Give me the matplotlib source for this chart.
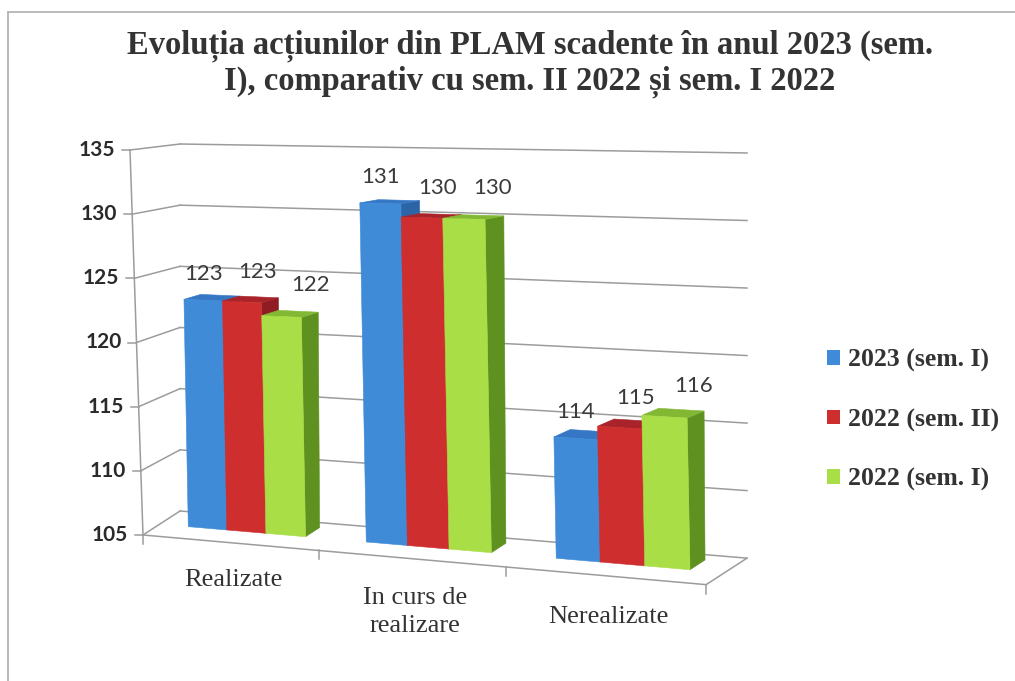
import numpy as np
import matplotlib
matplotlib.use("Agg")
import matplotlib.pyplot as plt
from matplotlib.patches import Polygon, Patch

#==========================
# DATA
#==========================
categories = ["Realizate", "In curs de\nrealizare", "Nerealizate"]
series = ["2023 (sem. I)", "2022 (sem. II)", "2022 (sem. I)"]
sem1_2023 = [123, 131, 114]
sem2_2022 = [123, 130, 115]
sem1_2022 = [122, 130, 116]
yticks = [105, 110, 115, 120, 125, 130, 135]
title = ("Evoluția acțiunilor din PLAM scadente în anul 2023 (sem.\n"
         "I), comparativ cu sem. II 2022 și sem. I 2022")

values = [sem1_2023, sem2_2022, sem1_2022]

#==========================
# STYLE
#==========================
front = ["#3f8bd8", "#cf2e2f", "#aade46"]
side = ["#2b65a8", "#8f1c22", "#5f9120"]
top = ["#3577c4", "#a9242a", "#82b834"]
grid_c = "#9c9c9c"
lab_dx = [0, 16, 29]      # label shift per series (px)
lab_dy = [-26, -30, -31]
serif = "Liberation Serif"
sans = "Lato"

#==========================
# PERSPECTIVE (canvas pixels)
#==========================
W, H = 1015, 681
VPX, VPY = -5272.0, 57.7      # vanishing point far on the left
K = 0.0314
vmin, vmax = yticks[0], yticks[-1]
ncat = len(categories)
bw = 0.222                    # bar width (category units)
d0, d1 = 0.45, 0.82           # bar depth inside the floor

def wall(v, d):
    # point on the left wall (category x = 0)
    t = (v - vmin) / float(vmax - vmin)
    fx, fy = 143 - 13*t, 535 - 385*t
    bx, by = 180.0, 511 - 367*t
    return fx + d*(bx - fx), fy + d*(by - fy)

def P(x, v, d):
    qx, qy = wall(v, d)
    lam = 1.0/(1.0 - K*x)
    return VPX + lam*(qx - VPX), VPY + lam*(qy - VPY)

#==========================
# FIGURE
#==========================
fig = plt.figure(figsize=(W/100.0, H/100.0), dpi=100)
ax = fig.add_axes([0, 0, 1, 1])
ax.set_xlim(0, W)
ax.set_ylim(H, 0)
ax.axis("off")

# frame of the scanned chart
ax.plot([8, W], [12, 12], color="#b4b4b4", lw=1.3)
ax.plot([8, 8], [12, H], color="#b4b4b4", lw=1.3)

# walls grid
for v in yticks:
    a, b = P(0, v, 1), P(ncat, v, 1)
    ax.plot([a[0], b[0]], [a[1], b[1]], color=grid_c, lw=1.1, zorder=1)
    a, b = P(0, v, 0), P(0, v, 1)
    ax.plot([a[0], b[0]], [a[1], b[1]], color=grid_c, lw=1.1, zorder=1)
    ax.plot([a[0]-8, a[0]], [a[1], a[1]], color=grid_c, lw=1.1, zorder=1)
    ax.text(a[0]-15, a[1], str(v), ha="right", va="center", fontsize=15,
            family=sans, fontweight="bold", color="#2a2a2a")

# axis line + floor edges
a, b = P(0, vmin, 0), P(0, vmax, 0)
ax.plot([a[0], b[0]], [a[1], b[1]], color=grid_c, lw=1.1, zorder=1)
a, b = P(0, vmin, 0), P(ncat, vmin, 0)
ax.plot([a[0], b[0]], [a[1], b[1]], color=grid_c, lw=1.1, zorder=1)
a, b = P(ncat, vmin, 0), P(ncat, vmin, 1)
ax.plot([a[0], b[0]], [a[1], b[1]], color=grid_c, lw=1.1, zorder=1)
for i in range(ncat+1):
    a = P(i, vmin, 0)
    ax.plot([a[0], a[0]], [a[1], a[1]+9], color=grid_c, lw=1.1, zorder=1)

# bars
for i in range(ncat):
    c = i + 0.5
    for j in range(len(series)):
        v = values[j][i]
        x0 = c - 1.5*bw + j*bw
        x1 = x0 + bw
        f = [P(x0, vmin, d0), P(x1, vmin, d0), P(x1, v, d0), P(x0, v, d0)]
        s = [P(x1, vmin, d0), P(x1, vmin, d1), P(x1, v, d1), P(x1, v, d0)]
        t = [P(x0, v, d0), P(x1, v, d0), P(x1, v, d1), P(x0, v, d1)]
        z = 3 + i*3 + j
        ax.add_patch(Polygon(s, closed=True, fc=side[j], ec=side[j], lw=0.4, zorder=z))
        ax.add_patch(Polygon(t, closed=True, fc=top[j], ec=top[j], lw=0.4, zorder=z))
        ax.add_patch(Polygon(f, closed=True, fc=front[j], ec=front[j], lw=0.4, zorder=z))
        px, py = P(c - bw + j*bw, v, d0)
        ax.text(px + lab_dx[j], py + lab_dy[j], str(v), ha="center", va="center",
                fontsize=16, family=sans, color="#3a3a3a", zorder=20)

# category labels
for i, name in enumerate(categories):
    px, py = P(i + 0.5, vmin, 0)
    ax.text(px + 4, py + 26 + 2*i, name, ha="center", va="top", fontsize=19,
            family=serif, color="#333333", linespacing=1.4)

# title
ax.text(530, 64, title, ha="center", va="center", fontsize=23.5, family=serif,
        fontweight="bold", color="#333333", linespacing=1.15)

# legend
handles = [Patch(facecolor=front[j], edgecolor="none", label=series[j])
           for j in range(len(series))]
ax.legend(handles=handles, loc="center left", bbox_to_anchor=(827.0/W, 1 - 420.0/H),
          frameon=False, prop={"family": serif, "weight": "bold", "size": 18.5},
          handlelength=0.5, handleheight=0.5, handletextpad=0.3,
          labelspacing=1.4, borderpad=0, borderaxespad=0, labelcolor="#333333")

fig.savefig("out.png", dpi=100)
